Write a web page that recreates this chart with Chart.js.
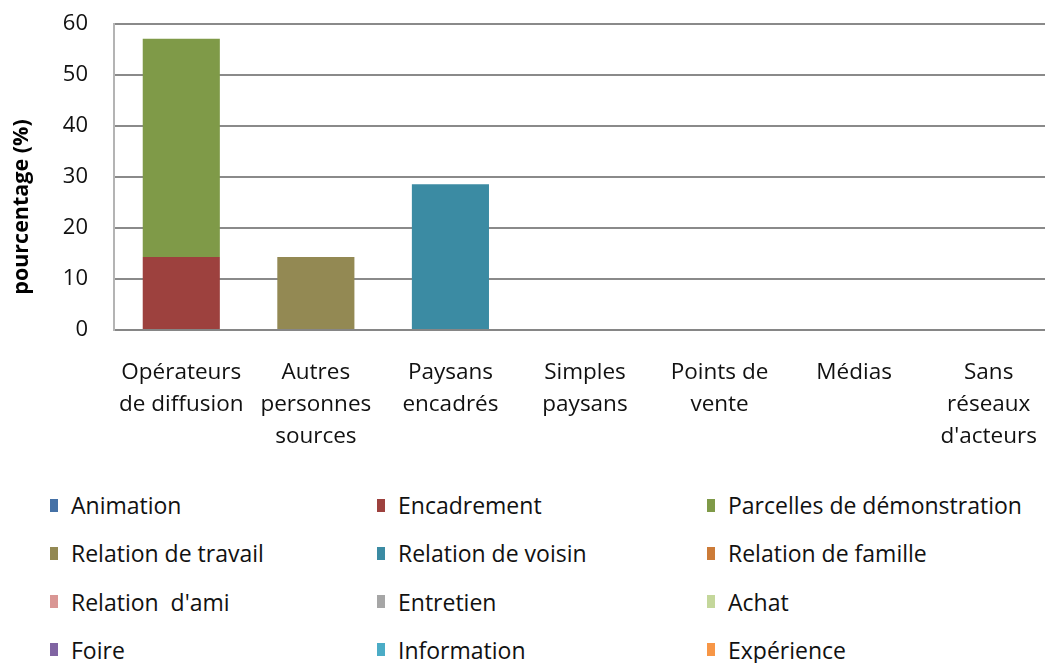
<!DOCTYPE html>
<html lang="fr">
<head>
<meta charset="utf-8">
<script src="https://cdn.jsdelivr.net/npm/chart.js@4.4.1/dist/chart.umd.min.js"></script>
<style>
    html, body { margin: 0; padding: 0; background: #fff; overflow: hidden; }
    #wrap { position: relative; width: 1056px; height: 470px; }
    #legend {
        position: absolute; left: 50px; top: 481px;
        display: grid; grid-template-columns: 327px 330px 330px; grid-auto-rows: 48.3px;
        font-family: "Open Sans", sans-serif; font-size: 23px; color: #111;
    }
    .item { display: flex; align-items: center; height: 48px; }
    .box { width: 8px; height: 13px; margin-right: 13px; flex: none; }
</style>
</head>
<body>
<div id="wrap"><canvas id="chart" width="1056" height="470"></canvas></div>
<div id="legend"></div>

<script>
// ---- data ----
const categories = [
    ['Opérateurs', 'de diffusion'],
    ['Autres', 'personnes', 'sources'],
    ['Paysans', 'encadrés'],
    ['Simples', 'paysans'],
    ['Points de', 'vente'],
    ['Médias'],
    ['Sans', 'réseaux', "d'acteurs"],
];
const yTicks = [0, 10, 20, 30, 40, 50, 60];

const animation      = [0, 0, 0, 0, 0, 0, 0];
const encadrement    = [14.3, 0, 0, 0, 0, 0, 0];
const parcelles      = [42.8, 0, 0, 0, 0, 0, 0];
const relTravail     = [0, 14.3, 0, 0, 0, 0, 0];
const relVoisin      = [0, 0, 28.6, 0, 0, 0, 0];
const relFamille     = [0, 0, 0, 0, 0, 0, 0];
const relAmi         = [0, 0, 0, 0, 0, 0, 0];
const entretien      = [0, 0, 0, 0, 0, 0, 0];
const achat          = [0, 0, 0, 0, 0, 0, 0];
const foire          = [0, 0, 0, 0, 0, 0, 0];
const information    = [0, 0, 0, 0, 0, 0, 0];
const experience     = [0, 0, 0, 0, 0, 0, 0];

const seriesNames  = ['Animation', 'Encadrement', 'Parcelles de démonstration',
                      'Relation de travail', 'Relation de voisin', 'Relation de famille',
                      "Relation  d'ami", 'Entretien', 'Achat',
                      'Foire', 'Information', 'Expérience'];
const seriesValues = [animation, encadrement, parcelles, relTravail, relVoisin, relFamille,
                      relAmi, entretien, achat, foire, information, experience];
const seriesColors = ['#4571a6', '#9d413e', '#7f9a48', '#938953', '#3b8ba3', '#cc7b38',
                      '#d99694', '#a6a6a6', '#c4d79b', '#8064a2', '#4bacc6', '#f79646'];

// ---- chart ----
const FONT = '"Open Sans", sans-serif';
const yTitle = 'pourcentage (%)';

// y title drawn by hand: Excel puts it a bit below the plot's middle
const yTitlePlugin = {
    id: 'yTitle',
    afterDraw(chart) {
        const ctx = chart.ctx;
        ctx.save();
        ctx.translate(22, 207);
        ctx.rotate(-Math.PI / 2);
        ctx.font = `bold 21.5px ${FONT}`;
        ctx.fillStyle = '#000';
        ctx.textAlign = 'center';
        ctx.textBaseline = 'middle';
        ctx.fillText(yTitle, 0, 0);
        ctx.restore();
    },
};

new Chart(document.getElementById('chart'), {
    type: 'bar',
    data: {
        labels: categories,
        datasets: seriesNames.map((name, i) => ({
            label: name,
            data: seriesValues[i],
            backgroundColor: seriesColors[i],
            borderWidth: 0,
            categoryPercentage: 1,
            barPercentage: 0.573,
        })),
    },
    plugins: [yTitlePlugin],
    options: {
        responsive: false,
        animation: false,
        devicePixelRatio: 1,
        layout: { padding: { top: 24, right: 0, left: 0, bottom: 0 } },
        plugins: { legend: { display: false }, tooltip: { enabled: false } },
        scales: {
            x: {
                stacked: true,
                grid: { display: false, drawTicks: false },
                border: { color: '#868686', width: 2 },
                ticks: { color: '#111', maxRotation: 0, autoSkip: false, padding: 27,
                         font: { family: FONT, size: 22.5, lineHeight: 1.42 } },
                afterFit: s => { s.height = 140; s.paddingLeft = 0; s.paddingRight = 0; },
            },
            y: {
                stacked: true,
                min: 0, max: 60,
                afterBuildTicks: s => { s.ticks = yTicks.map(v => ({ value: v })); },
                grid: { color: '#8a8a8a', lineWidth: 2, drawTicks: false },
                border: { color: '#b4b4b4', width: 2 },
                ticks: { color: '#111', padding: 26, font: { family: FONT, size: 22 } },
                afterFit: s => { s.width = 114; s.paddingTop = 0; s.paddingBottom = 0; },
            },
        },
    },
});

// ---- html legend ----
const legend = document.getElementById('legend');
seriesNames.forEach((name, i) => {
    const item = document.createElement('div');
    item.className = 'item';
    item.innerHTML = `<span class="box" style="background:${seriesColors[i]}"></span><span>${name.replace(/  /g, ' &nbsp;')}</span>`;
    legend.appendChild(item);
});
</script>
</body>
</html>
